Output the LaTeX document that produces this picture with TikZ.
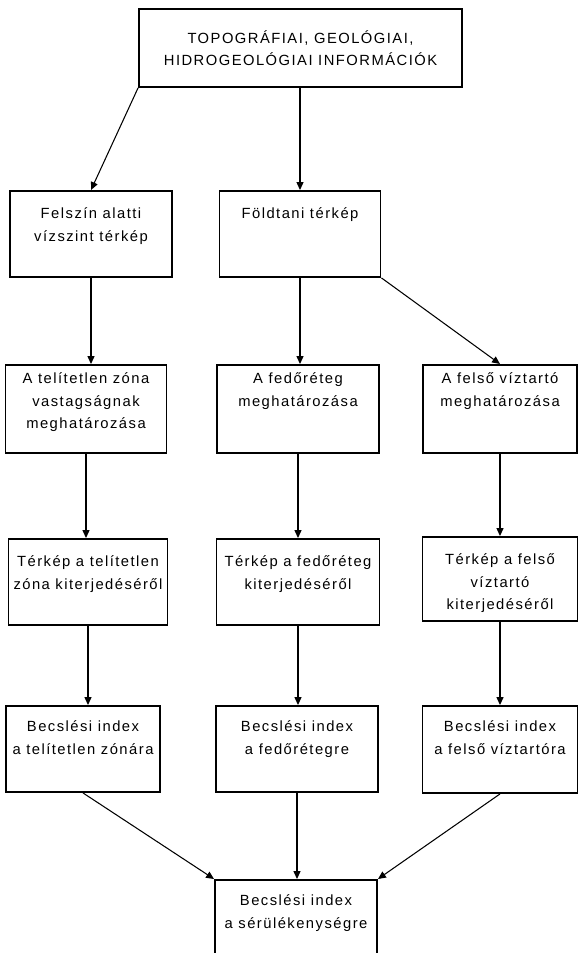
\documentclass[tikz,border=0pt]{standalone}
\usepackage{fontspec}
\setmainfont{Liberation Sans}[LetterSpace=10]
\usetikzlibrary{arrows.meta,positioning}
\newcommand{\celltext}[4][0.56cm]{\parbox[t][#3][t]{#2}{\centering\rule{0pt}{#1}#4}}
\tikzset{
  cell/.style={draw, line width=1.1pt, inner sep=0pt, anchor=north},
  link/.style={->, line width=0.6pt}
}

\begin{document}
\begin{tikzpicture}[>={Triangle[length=4.5pt,width=4pt]}, font=\fontsize{8.4pt}{12.8pt}\selectfont]
  \useasboundingbox (0,0) rectangle (11.58,-19.06);

  % Input data at top
  \node[cell, anchor=center] (info) at (6.01,-0.96)
    {\parbox[c][1.56cm][c]{6.46cm}{\centering TOPOGRÁFIAI, GEOLÓGIAI,\\ HIDROGEOLÓGIAI INFORMÁCIÓK}};

  % Maps
  \node[cell] (felszin) at (1.82,-3.8) {\celltext{3.24cm}{1.72cm}{Felszín alatti\\ vízszint térkép}};
  \node[cell] (foldtani) at (6.0,-3.8) {\celltext{3.22cm}{1.72cm}{Földtani térkép}};

  % Determination
  \node[cell] (vastag) at (1.72,-7.28) {\celltext[0.38cm]{3.22cm}{1.76cm}{A telítetlen zóna\\ vastagságnak\\ meghatározása}};
  \node[cell] (fedo) at (5.96,-7.28) {\celltext[0.38cm]{3.24cm}{1.76cm}{A fedőréteg\\ meghatározása}};
  \node[cell] (felso) at (10.0,-7.28) {\celltext[0.38cm]{3.08cm}{1.76cm}{A felső víztartó\\ meghatározása}};

  % Extent maps
  \node[cell] (kitA) at (1.76,-10.76) {\celltext{3.18cm}{1.72cm}{Térkép a telítetlen\\ zóna kiterjedéséről}};
  \node[cell] (kitB) at (5.96,-10.76) {\celltext{3.26cm}{1.72cm}{Térkép a fedőréteg\\ kiterjedéséről}};
  \node[cell] (kitC) at (10.0,-10.72) {\celltext{3.1cm}{1.68cm}{Térkép a felső\\ víztartó\\ kiterjedéséről}};

  % Indices
  \node[cell] (becsA) at (1.66,-14.1) {\celltext[0.52cm]{3.08cm}{1.72cm}{Becslési index\\ a telítetlen zónára}};
  \node[cell] (becsB) at (5.94,-14.1) {\celltext[0.52cm]{3.24cm}{1.72cm}{Becslési index\\ a fedőrétegre}};
  \node[cell] (becsC) at (10.0,-14.1) {\celltext[0.52cm]{3.1cm}{1.74cm}{Becslési index\\ a felső víztartóra}};

  \node[cell] (serul) at (5.92,-17.58) {\celltext[0.52cm]{3.24cm}{2.2cm}{Becslési index\\ a sérülékenységre}};

  % Connectors
  \draw[link] (info.south west) -- (felszin.north);
  \draw[link] (foldtani.north |- info.south) -- (foldtani.north);
  \draw[link] (felszin.south) -- (felszin.south |- vastag.north);
  \draw[link] (foldtani.south) -- (foldtani.south |- fedo.north);
  \draw[link] (foldtani.south east) -- (felso.north);

  \draw[link] (vastag.south) -- (vastag.south |- kitA.north);
  \draw[link] (fedo.south) -- (fedo.south |- kitB.north);
  \draw[link] (felso.south) -- (felso.south |- kitC.north);

  \draw[link] (kitA.south) -- (kitA.south |- becsA.north);
  \draw[link] (kitB.south) -- (kitB.south |- becsB.north);
  \draw[link] (kitC.south) -- (kitC.south |- becsC.north);

  \draw[link] (becsA.south) -- (serul.north west);
  \draw[link] (becsB.south) -- (becsB.south |- serul.north);
  \draw[link] (becsC.south) -- (serul.north east);
\end{tikzpicture}
\end{document}
